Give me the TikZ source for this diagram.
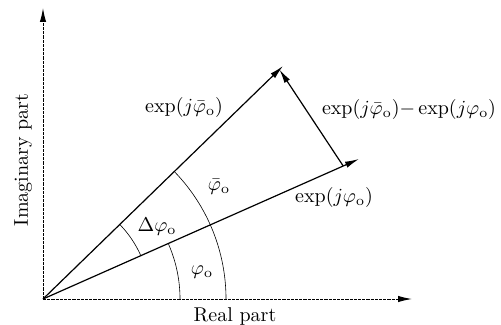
\documentclass[tikz,border=0pt]{standalone}
\usepackage{tikz}
\usetikzlibrary{arrows.meta, calc}

\begin{document}
\begin{tikzpicture}[
  x=0.5pt, y=-0.5pt,
  >={Latex[length=7pt, width=3.2pt]}, font=\normalsize,
  axis/.style={line width=0.5pt, dash pattern=on 1.6pt off 0.5pt},
  vec/.style={line width=0.6pt},
  ang/.style={line width=0.3pt},
  lbl/.style={inner sep=1pt}
]
  \useasboundingbox (0,0) rectangle (501,325);
  \coordinate (O) at (43,299);
  \coordinate (xend) at (412,299);
  \coordinate (yend) at (43,8);
  \coordinate (tipbar) at (283,66);
  \coordinate (tip) at (359,159);
  \coordinate (dstart) at ($(O)!0.95!(tip)$);
  \coordinate (dend) at ($(O)!0.985!(tipbar)$);
  \draw[axis, ->] (O) -- (xend);
  \draw[axis, ->] (O) -- (yend);
  \draw[vec, ->] (O) -- (tipbar);
  \draw[vec, ->] (O) -- (tip);
  \draw[vec, ->] (dstart) -- (dend);
  % angle arcs (y axis points down, so angles are negative)
  \draw[ang] ($(O)+(0:137)$) arc[start angle=0, end angle=-23.6, radius=137];
  \draw[ang] ($(O)+(-23.6:107)$) arc[start angle=-23.6, end angle=-44, radius=107];
  \draw[ang] ($(O)+(0:183)$) arc[start angle=0, end angle=-44, radius=183];
  \node[lbl] (lbar) at (184,108) {$\exp(j\bar{\varphi}_{\rm o})$};
  \node[lbl] (ldiff) at (409,110) {$\exp(j\bar{\varphi}_{\rm o}){-}\exp(j\varphi_{\rm o})$};
  \node[lbl] (lphi) at (334,198) {$\exp(j\varphi_{\rm o})$};
  \node[lbl] (abar) at (219,187) {$\bar{\varphi}_{\rm o}$};
  \node[lbl] (adelta) at (157,227) {$\Delta\varphi_{\rm o}$};
  \node[lbl] (aphi) at (202,272) {$\varphi_{\rm o}$};
  \node[lbl] (xlab) at (235,316) {Real part};
  \node[lbl, rotate=90] (ylab) at (23,160) {Imaginary part};
\end{tikzpicture}
\end{document}
